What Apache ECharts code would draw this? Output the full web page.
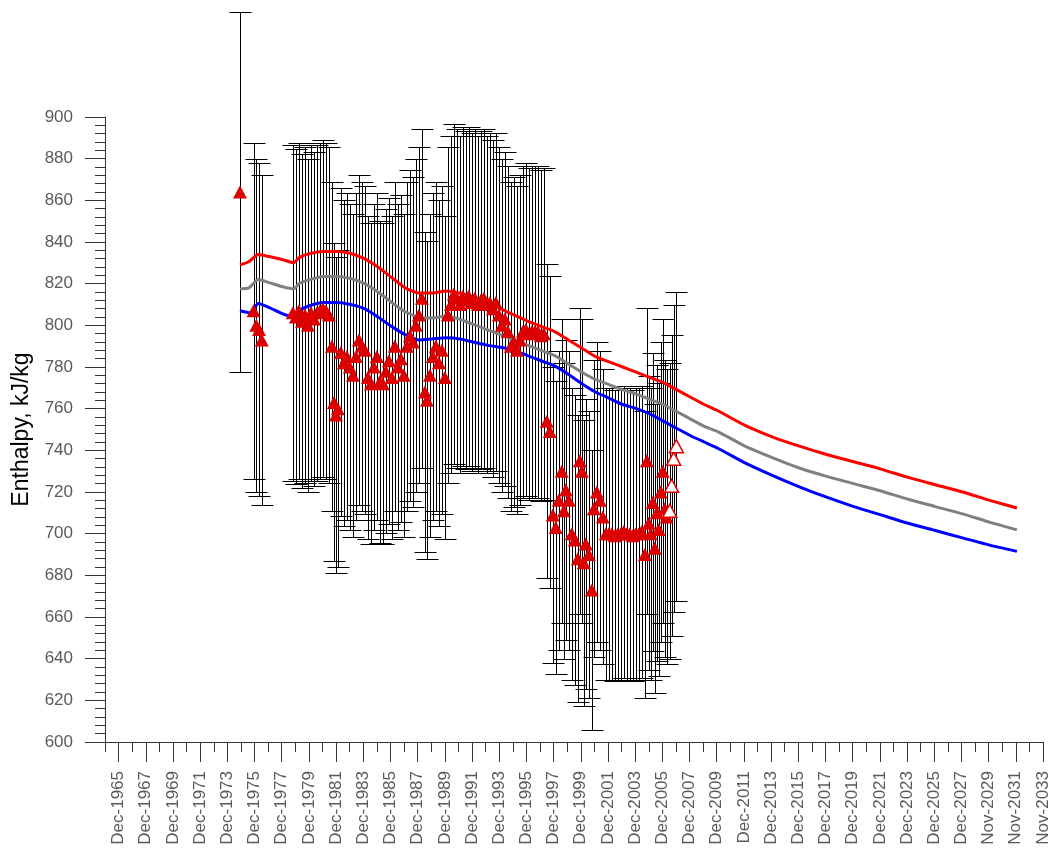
<!DOCTYPE html>
<html>
<head>
<meta charset="utf-8">
<script src="https://cdn.jsdelivr.net/npm/echarts@6/dist/echarts.min.js"></script>
<style>
html, body { margin: 0; padding: 0; background: #fff; }
#main { width: 1056px; height: 850px; }
</style>
</head>
<body>
<div id="main"></div>
<script>
var myChart = echarts.init(document.getElementById('main'));

// x axis runs in years counted from Dec-1964
var xOrigin = 1964.92;
var errFrac = 0.10;   // error bars are +/- 10 % of the measured value

var yearLabels = ['Dec-1965', 'Dec-1967', 'Dec-1969', 'Dec-1971', 'Dec-1973', 'Dec-1975',
    'Dec-1977', 'Dec-1979', 'Dec-1981', 'Dec-1983', 'Dec-1985', 'Dec-1987', 'Dec-1989',
    'Dec-1991', 'Dec-1993', 'Dec-1995', 'Dec-1997', 'Dec-1999', 'Dec-2001', 'Dec-2003',
    'Dec-2005', 'Dec-2007', 'Dec-2009', 'Dec-2011', 'Dec-2013', 'Dec-2015', 'Dec-2017',
    'Dec-2019', 'Dec-2021', 'Dec-2023', 'Dec-2025', 'Dec-2027', 'Nov-2029', 'Nov-2031',
    'Nov-2033'];

// measured enthalpy [year, kJ/kg] - filled triangles
var measured = [
    [1974.85, 864],
    [1975.85, 807], [1976.05, 800], [1976.25, 798], [1976.45, 793],
    [1978.74, 806], [1978.96, 804], [1979.18, 807], [1979.41, 802], [1979.63, 805],
    [1979.85, 800], [1980.07, 806], [1980.29, 803], [1980.51, 806], [1980.73, 807],
    [1980.95, 808], [1981.17, 807], [1981.39, 805], [1981.61, 790], [1981.76, 763],
    [1981.91, 757], [1982.05, 760], [1982.27, 787], [1982.49, 782], [1982.71, 785],
    [1982.93, 780], [1983.16, 776], [1983.38, 785], [1983.60, 793], [1983.82, 790],
    [1984.04, 788], [1984.26, 775], [1984.48, 772], [1984.70, 780], [1984.92, 785],
    [1985.14, 773], [1985.36, 772], [1985.58, 778], [1985.80, 783], [1986.02, 775],
    [1986.24, 790], [1986.46, 780], [1986.68, 784], [1986.90, 776], [1987.13, 790],
    [1987.35, 795], [1987.57, 792], [1987.79, 800], [1988.01, 805], [1988.23, 813],
    [1988.45, 768], [1988.60, 764], [1988.82, 776], [1989.04, 785], [1989.26, 790],
    [1989.48, 782], [1989.70, 788], [1989.92, 775], [1990.14, 805], [1990.36, 810],
    [1990.58, 815], [1990.80, 813], [1991.02, 810], [1991.24, 814], [1991.46, 812],
    [1991.68, 814], [1991.90, 811], [1992.12, 813], [1992.35, 810], [1992.57, 812],
    [1992.79, 813], [1993.00, 810], [1993.23, 811], [1993.45, 808], [1993.67, 811],
    [1993.89, 805], [1994.11, 800], [1994.33, 803], [1994.55, 797], [1994.77, 790],
    [1995.00, 792], [1995.22, 788], [1995.44, 793], [1995.66, 797], [1995.88, 798],
    [1996.10, 796], [1996.32, 797], [1996.54, 797], [1996.76, 797], [1996.98, 795],
    [1997.20, 796], [1997.42, 754], [1997.64, 749], [1997.86, 709], [1998.08, 703],
    [1998.30, 716], [1998.52, 730], [1998.67, 711], [1998.82, 721], [1999.04, 716],
    [1999.26, 700], [1999.48, 697], [1999.70, 688], [1999.85, 735], [2000.00, 730],
    [2000.14, 686], [2000.29, 695], [2000.51, 690], [2000.73, 673], [2000.88, 712],
    [2001.10, 720], [2001.32, 716], [2001.54, 708], [2001.76, 700], [2001.98, 700],
    [2002.20, 700], [2002.42, 699], [2002.64, 700], [2002.86, 700], [2003.08, 701],
    [2003.30, 700], [2003.52, 700], [2003.74, 699], [2003.96, 700], [2004.18, 700],
    [2004.40, 701], [2004.63, 690], [2004.78, 735], [2004.92, 705], [2005.07, 700],
    [2005.21, 715], [2005.36, 693], [2005.51, 710], [2005.65, 702], [2005.80, 720],
    [2005.95, 730], [2006.10, 712], [2006.24, 708]
];

// latest measurements - hollow triangles
var measuredNew = [
    [2006.46, 711], [2006.60, 723], [2006.75, 736], [2006.95, 742]
];

// model curves [year, kJ/kg]
var upperCurve = [
    [1974.85, 829], [1975.5, 830.5], [1976.2, 834], [1977, 833], [1978, 831.5],
    [1978.8, 830], [1979.2, 832.5], [1980, 834.5], [1981, 835.5], [1982, 835.5],
    [1983, 834.5], [1984, 832], [1985, 828], [1986, 823], [1987, 818],
    [1988, 815.5], [1989, 815.5], [1990, 816.5], [1991, 815.5], [1992, 813.5],
    [1993, 811], [1994, 808], [1995, 805], [1996, 802], [1997, 799.5],
    [1998, 797], [1999, 793], [2000, 789], [2001, 785], [2002, 782.5],
    [2003, 780], [2004, 777.5], [2005, 775], [2006, 772.5], [2007, 769],
    [2008, 765.5], [2009, 762], [2010, 759], [2012, 752], [2014, 746.5],
    [2016, 742], [2018, 738], [2020, 734.5], [2022, 731], [2024, 727],
    [2026, 723.5], [2028, 720], [2030, 716], [2032, 712.3]
];
var middleCurve = [
    [1974.85, 817.5], [1975.5, 818], [1976.2, 822], [1977, 820.5], [1978, 818.5],
    [1978.8, 817.5], [1979.2, 820], [1980, 822], [1981, 823.5], [1982, 823.5],
    [1983, 822.5], [1984, 820], [1985, 816], [1986, 811], [1987, 806.5],
    [1988, 804], [1989, 803.5], [1990, 804.5], [1991, 803], [1992, 800.5],
    [1993, 798], [1994, 795.5], [1995, 793], [1996, 790.5], [1997, 788],
    [1998, 785.5], [1999, 781.5], [2000, 777.5], [2001, 774], [2002, 771.5],
    [2003, 769], [2004, 767], [2005, 764.5], [2006, 762], [2007, 758.5],
    [2008, 755], [2009, 751.5], [2010, 749], [2012, 742], [2014, 736.5],
    [2016, 731.5], [2018, 727.5], [2020, 724], [2022, 720.5], [2024, 716.5],
    [2026, 713], [2028, 709.5], [2030, 705.5], [2032, 701.8]
];
var lowerCurve = [
    [1974.85, 807], [1975.6, 806], [1976.2, 810.5], [1977, 808.5], [1978, 805.5],
    [1978.8, 804], [1979.2, 807], [1980, 809.5], [1981, 811], [1982, 811],
    [1983, 810], [1984, 808], [1985, 804], [1986, 799.5], [1987, 795.5],
    [1988, 793], [1989, 793.5], [1990, 794], [1991, 793.5], [1992, 792],
    [1993, 790.5], [1994, 789.5], [1995, 788], [1996, 785.5], [1997, 783],
    [1998, 780.5], [1999, 776.5], [2000, 772], [2001, 768], [2002, 765],
    [2003, 762], [2004, 760], [2005, 757.5], [2006, 754], [2007, 750.5],
    [2008, 747], [2009, 744], [2010, 741], [2012, 734], [2014, 728],
    [2016, 722.5], [2018, 717.5], [2020, 713], [2022, 709], [2024, 705],
    [2026, 701.5], [2028, 698], [2030, 694.5], [2032, 691.5]
];

var fontFamily = '"Liberation Sans", Arial, sans-serif';
var axisColor = '#333';

function shift(points) {
    return points.map(function (p) { return [p[0] - xOrigin, p[1]]; });
}

// error bars for every measurement
var errorBars = measured.concat(measuredNew).map(function (p) {
    return [p[0] - xOrigin, p[1] * (1 - errFrac), p[1] * (1 + errFrac)];
});

function renderErrorBar(params, api) {
    var x = api.value(0);
    var top = api.coord([x, api.value(2)]);
    var bot = api.coord([x, api.value(1)]);
    var cx = Math.round(top[0]) + 0.5;
    var ty = Math.round(top[1]) + 0.5;
    var by = Math.round(bot[1]) + 0.5;
    var hw = 11;
    var style = { stroke: '#000', lineWidth: 1 };
    return {
        type: 'group',
        children: [
            { type: 'line', shape: { x1: cx, y1: ty, x2: cx, y2: by }, style: style },
            { type: 'line', shape: { x1: cx - hw, y1: ty, x2: cx + hw, y2: ty }, style: style },
            { type: 'line', shape: { x1: cx - hw, y1: by, x2: cx + hw, y2: by }, style: style }
        ]
    };
}

var oddTicks = [], evenTicks = [];
for (var k = 0; k <= 69; k++) {
    if (k % 2 === 1) oddTicks.push(k); else evenTicks.push(k);
}

function curveSeries(name, data, color) {
    return {
        name: name,
        type: 'line',
        data: shift(data),
        showSymbol: false,
        smooth: 0.2,
        lineStyle: { color: color, width: 3 },
        z: 3
    };
}

var option = {
    animation: false,
    backgroundColor: '#fff',
    textStyle: { fontFamily: fontFamily },
    grid: { left: 105, right: 13, top: 117, bottom: 108, containLabel: false },
    xAxis: [{
        type: 'value',
        min: 0,
        max: 69,
        interval: 1,
        position: 'bottom',
        axisLine: { show: true, lineStyle: { color: axisColor, width: 1 } },
        axisTick: { show: true, customValues: oddTicks, length: 20, lineStyle: { color: axisColor } },
        axisLabel: {
            customValues: oddTicks,
            rotate: 90,
            margin: 29,
            fontSize: 17,
            color: '#5a5a5a',
            fontFamily: fontFamily,
            formatter: function (v) { return yearLabels[(Math.round(v) - 1) / 2] || ''; }
        },
        splitLine: { show: false }
    }, {
        type: 'value',
        min: 0,
        max: 69,
        interval: 1,
        position: 'bottom',
        axisLine: { show: false },
        axisTick: { show: true, customValues: evenTicks, length: 10, lineStyle: { color: axisColor } },
        axisLabel: { show: false },
        splitLine: { show: false }
    }],
    yAxis: {
        type: 'value',
        min: 600,
        max: 900,
        interval: 20,
        name: 'Enthalpy, kJ/kg',
        nameLocation: 'middle',
        nameGap: 72,
        nameTextStyle: { fontSize: 23, color: '#000', fontFamily: fontFamily },
        axisLine: { show: true, lineStyle: { color: axisColor, width: 1 } },
        axisTick: { show: true, length: 20, lineStyle: { color: axisColor } },
        minorTick: { show: true, splitNumber: 5, length: 10, lineStyle: { color: axisColor } },
        axisLabel: { fontSize: 17, color: '#5a5a5a', margin: 32, fontFamily: fontFamily },
        splitLine: { show: false },
        minorSplitLine: { show: false }
    },
    series: [
        {
            name: 'error',
            type: 'custom',
            renderItem: renderErrorBar,
            data: errorBars,
            clip: false,
            encode: { x: 0, y: [1, 2] },
            z: 2
        },
        curveSeries('upper', upperCurve, '#ff0000'),
        curveSeries('middle', middleCurve, '#808080'),
        curveSeries('lower', lowerCurve, '#0000ff'),
        {
            name: 'measured',
            type: 'scatter',
            data: shift(measured),
            symbol: 'triangle',
            symbolSize: [14, 13],
            itemStyle: { color: '#dc0000', opacity: 1 },
            z: 4
        },
        {
            name: 'measured new',
            type: 'scatter',
            data: shift(measuredNew),
            symbol: 'triangle',
            symbolSize: [14, 13],
            itemStyle: { color: '#fff', borderColor: '#e00000', borderWidth: 1.5, opacity: 1 },
            z: 4
        }
    ]
};

option && myChart.setOption(option);
</script>
</body>
</html>
